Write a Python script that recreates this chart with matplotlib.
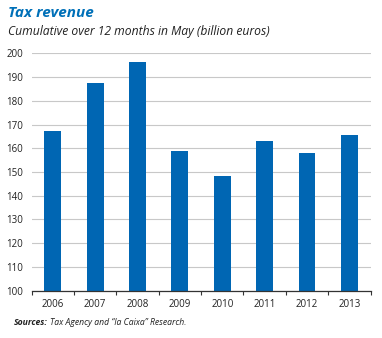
import matplotlib
matplotlib.use("Agg")
import matplotlib.pyplot as plt
import numpy as np

years = ["2006", "2007", "2008", "2009", "2010", "2011", "2012", "2013"]
revenue = [167.3, 187.6, 196.5, 158.9, 148.4, 163.1, 158.2, 165.6]
yticks = [100, 110, 120, 130, 140, 150, 160, 170, 180, 190, 200]

plt.rcParams['font.family'] = ['Open Sans', 'DejaVu Sans']

fig = plt.figure(figsize=(3.82, 3.38), dpi=100)
ax = fig.add_axes([0.083, 0.140, 0.887, 0.702])

x = np.arange(len(years))
ax.bar(x, revenue, width=0.4, color="#0066b3", zorder=3)
ax.set_xlim(-0.5, len(years) - 0.5)
ax.set_ylim(100, 200)
ax.set_yticks(yticks)
ax.set_yticklabels([str(v) for v in yticks], fontsize=7, color="#222222")
ax.yaxis.grid(True, color="#c8c8c8", linewidth=0.8, zorder=0)
ax.tick_params(axis='y', length=0, pad=6)

ax.set_xticks(x)
ax.set_xticklabels(years, fontsize=7, color="#222222")
ax.set_xticks(np.arange(-0.5, len(years)), minor=True)
ax.tick_params(axis='x', which='major', length=0, pad=6)
ax.tick_params(axis='x', which='minor', length=3, width=0.8, color="#333333", direction='out')

for s in ['top', 'right', 'left']:
    ax.spines[s].set_visible(False)
ax.spines['bottom'].set_color("#333333")
ax.spines['bottom'].set_linewidth(0.9)
ax.spines['bottom'].set_zorder(4)

fig.text(0.021, 0.962, "Tax revenue", fontsize=11, fontweight='bold', fontstyle='italic',
         color="#0070b8", va='center', ha='left')
fig.text(0.021, 0.908, "Cumulative over 12 months in May (billion euros)", fontsize=8.7,
         fontstyle='italic', color="#222222", va='center', ha='left')

fig.canvas.draw()
r = fig.canvas.get_renderer()
t1 = fig.text(0.037, 0.045, "Sources:", fontsize=6.2, fontweight='bold', fontstyle='italic',
              color="#222222", va='center', ha='left')
bb = t1.get_window_extent(renderer=r)
x2 = (bb.x1 + 1.5) / fig.bbox.width
fig.text(x2, 0.045, "Tax Agency and \u201cla Caixa\u201d Research.", fontsize=6.2, fontstyle='italic',
         color="#222222", va='center', ha='left')

fig.savefig("out.png", dpi=100)
